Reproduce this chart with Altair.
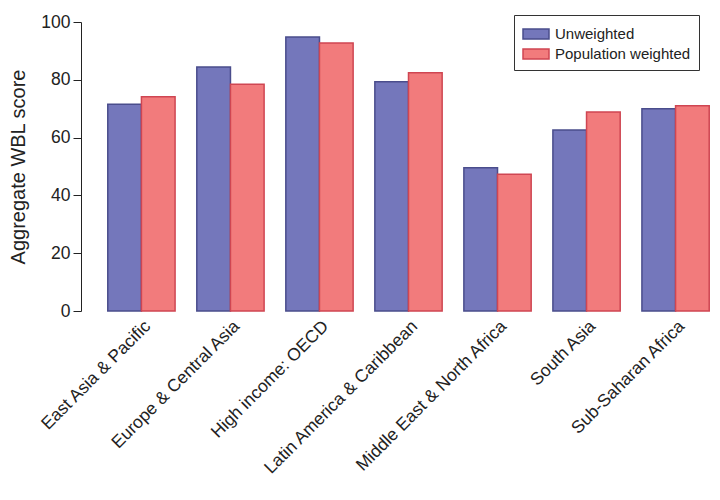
import altair as alt
import pandas as pd

regions = ["East Asia & Pacific", "Europe & Central Asia", "High income: OECD",
           "Latin America & Caribbean", "Middle East & North Africa", "South Asia",
           "Sub-Saharan Africa"]
unweighted = [71.5, 84.4, 94.8, 79.3, 49.6, 62.6, 70.0]
pop_weighted = [74.1, 78.5, 92.7, 82.4, 47.3, 68.9, 71.0]
series = ["Unweighted", "Population weighted"]
fills = ["#7477bb", "#f27b7c"]
strokes = ["#4a4d8c", "#cf4652"]

rows = []
for r, u, w in zip(regions, unweighted, pop_weighted):
    rows.append({"region": r, "series": series[0], "value": u})
    rows.append({"region": r, "series": series[1], "value": w})
df = pd.DataFrame(rows)

font = "Liberation Sans"

chart = alt.Chart(df).mark_bar(strokeWidth=1.5).encode(
    x=alt.X("region:N", sort=regions, title=None,
            scale=alt.Scale(paddingInner=0.244, paddingOuter=0.02),
            axis=alt.Axis(labelAngle=-45, domain=False, ticks=False, labelPadding=6,
                          labelFontSize=17.5, labelColor="#222", labelFont=font,
                          labelLimit=300)),
    xOffset=alt.XOffset("series:N", sort=series),
    y=alt.Y("value:Q", title="Aggregate WBL score",
            scale=alt.Scale(domain=[0, 100], nice=False),
            axis=alt.Axis(values=[0, 20, 40, 60, 80, 100], grid=False, offset=25,
                          tickSize=8, domainColor="#222", tickColor="#222",
                          labelFontSize=17.5, labelColor="#222", labelFont=font,
                          labelPadding=3,
                          titleFontSize=20, titleFont=font, titleColor="#222",
                          titleFontWeight="normal", titlePadding=12)),
    color=alt.Color("series:N", sort=series, title=None,
                    scale=alt.Scale(domain=series, range=fills),
                    legend=alt.Legend(orient="none", legendX=408, legendY=-7,
                                      strokeColor="#333", padding=8,
                                      labelFontSize=15, labelFont=font, labelColor="#222",
                                      symbolType="M-1.3,-0.5H1.3V0.5H-1.3Z", symbolSize=400,
                                      symbolOffset=3,
                                      symbolStrokeWidth=1.5, rowPadding=1,
                                      labelOffset=8, fillColor="white")),
    stroke=alt.Stroke("series:N", sort=series, title=None,
                      scale=alt.Scale(domain=series, range=strokes), legend=None),
).properties(
    width=605, height=289,
    padding={"left": 0, "top": 5, "right": 0, "bottom": 0},
).configure_view(stroke=None)

chart.save("out.html", embed_options={"renderer": "svg", "actions": False})
